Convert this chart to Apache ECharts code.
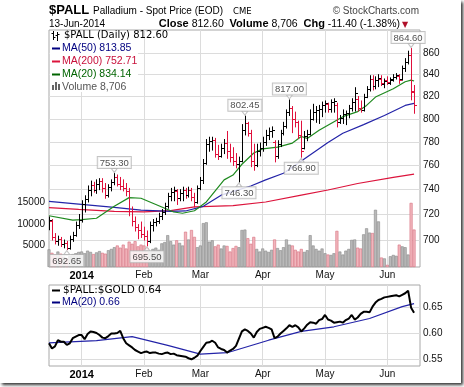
<!DOCTYPE html>
<html><head><meta charset="utf-8">
<script src="https://cdn.jsdelivr.net/npm/echarts@6/dist/echarts.min.js"></script>
<style>
html,body{margin:0;padding:0;background:#fff;}
#frame{position:absolute;left:0;top:0;width:461px;height:383px;background:#fff;box-shadow:2px 2px 3px #333;}
#chart{width:461px;height:383px;}
</style></head><body><div id="frame"><div id="chart"></div></div>
<script>
// ---- categories (trading days) ----
const dates = [
'2013-12-16','2013-12-17','2013-12-18','2013-12-19','2013-12-20','2013-12-23','2013-12-24','2013-12-26','2013-12-27','2013-12-30','2013-12-31',
'2014-01-02','2014-01-03','2014-01-06','2014-01-07','2014-01-08','2014-01-09','2014-01-10','2014-01-13','2014-01-14','2014-01-15','2014-01-16','2014-01-17','2014-01-21','2014-01-22','2014-01-23','2014-01-24','2014-01-27','2014-01-28','2014-01-29','2014-01-30','2014-01-31',
'2014-02-03','2014-02-04','2014-02-05','2014-02-06','2014-02-07','2014-02-10','2014-02-11','2014-02-12','2014-02-13','2014-02-14','2014-02-18','2014-02-19','2014-02-20','2014-02-21','2014-02-24','2014-02-25','2014-02-26','2014-02-27','2014-02-28',
'2014-03-03','2014-03-04','2014-03-05','2014-03-06','2014-03-07','2014-03-10','2014-03-11','2014-03-12','2014-03-13','2014-03-14','2014-03-17','2014-03-18','2014-03-19','2014-03-20','2014-03-21','2014-03-24','2014-03-25','2014-03-26','2014-03-27','2014-03-28','2014-03-31',
'2014-04-01','2014-04-02','2014-04-03','2014-04-04','2014-04-07','2014-04-08','2014-04-09','2014-04-10','2014-04-11','2014-04-14','2014-04-15','2014-04-16','2014-04-17','2014-04-21','2014-04-22','2014-04-23','2014-04-24','2014-04-25','2014-04-28','2014-04-29','2014-04-30',
'2014-05-01','2014-05-02','2014-05-05','2014-05-06','2014-05-07','2014-05-08','2014-05-09','2014-05-12','2014-05-13','2014-05-14','2014-05-15','2014-05-16','2014-05-19','2014-05-20','2014-05-21','2014-05-22','2014-05-23','2014-05-27','2014-05-28','2014-05-29','2014-05-30',
'2014-06-02','2014-06-03','2014-06-04','2014-06-05','2014-06-06','2014-06-09','2014-06-10','2014-06-11','2014-06-12','2014-06-13'];
const padCats = [' ', '  '];
const monthStarts = ['2014-01-02','2014-02-03','2014-03-03','2014-04-01','2014-05-01','2014-06-02'];
const monthLabels = ['2014','Feb','Mar','Apr','May','Jun'];
const priceTicks = [700,720,740,760,780,800,820,840,860];
const volumeTicks = [5000,10000,15000];
const ratioTicks = [0.55,0.60,0.65];

// ---- OHLC ----
const opens = [711,715,702,699,701,697,698,694,701,704,712,
716,728,732,740,744,740,745,747,741,736,742,746,750,745,743,741,739,723,715,710,708,
705,703,699,712,714,715,719,722,727,735,738,739,733,737,740,736,740,734,730,
741,748,762,778,781,782,770,768,775,779,772,767,764,761,764,790,796,788,764,760,772,
775,780,786,789,780,768,778,788,794,806,810,800,797,786,775,785,787,800,806,808,809,
812,813,809,815,812,797,801,804,805,810,815,818,810,808,820,827,836,830,835,836,831,
835,832,835,838,839,836,846,852,858,825];
const highs = [718,716,705,703,702,700,699,703,706,714,720,
731,735,743,747,746,748,749,749,745,744,748,753.3,752,750,748,745,741,726,718,712,714,
710,707,714,716,717,721,724,729,737,741,742,740,740,742,741,742,741,737,743,
750,765,782,784,784,783,777,778,782,789,778,775,770,767,795,802.45,797,790,778,778,779,
784,790,792,793,781,781,790,797,808,817,811,806,798,798,789,790,808,813,811,812,815,
816,814,817,818,814,803,808,807,812,818,828,820,816,822,829,839,839,838,840,839,836,
838,837,840,841,840,848,855,862,864.6,830];
const lows = [708,700,697,696,695,694,692.65,693,699,703,709,
714,722,730,735,738,737,740,738,733,734,739,744,743,740,739,735,719,711,707,701,702,
700,695.5,698,707,711,713,716,720,725,731,731,728,731,731,733,734,731,726,729,
740,745,761,772,773,767,765,767,770,766,763,760,758,746.3,763,786,785,759,756,759,768,
772,777,782,784,763,766,776,786,792,803,788,793,783,766.9,774,781,786,799,797,796,802,
806,806,806,806,793,796,796,795,801,807,807,807,806,807,819,825,826,827,829,830,828,
831,831,834,836,832,835,843,850,817,805];
const closes = [716,702,699,701,697,698,694,701,704,712,716,
728,732,740,744,740,745,747,741,736,742,746,750,745,743,741,739,723,715,710,708,705,
703,699,712,714,715,719,722,727,735,738,740,733,737,740,736,740,734,730,741,
748,762,778,781,782,770,768,775,779,772,767,764,761,764,790,796,788,764,760,772,775,
780,786,789,790,768,778,788,794,806,810,800,797,786,772,785,787,800,806,808,809,812,
814,809,815,816,797,801,804,805,810,815,823,810,808,820,827,836,830,835,837,832,834,
833,836,838,840,835,846,852,858,824,812.6];
const volumes = [4100,3300,2900,3600,3100,2400,2000,2600,3000,3200,3500,
3600,3200,3800,3500,3000,3400,3700,3300,3100,3900,4200,4600,
5000,4500,5200,4300,5900,5400,6000,4800,5200,
5000,4400,3600,4200,4500,4000,5500,5800,7400,6000,5200,6200,5600,5000,8200,6400,8600,7000,4600,5000,10200,10400,5900,6200,4800,5200,4300,5000,4900,3600,4400,
4900,4600,8600,8700,6700,5400,7000,4200,3600,4300,3800,3500,4000,6400,4400,3900,4600,6400,5200,5000,4000,3600,4200,3500,3900,7400,5000,4200,3800,4300,3200,
2900,2800,3200,8400,3600,2900,3800,4200,6300,6400,4500,4300,7600,9000,8000,7900,13300,10600,2200,2000,500,2500,2800,2600,5200,4800,4600,2900,14900,8706];

// ---- moving averages ----
const ma50Dates = ['2013-12-16','2013-12-31','2014-01-17','2014-01-31','2014-02-14','2014-02-24','2014-03-04','2014-03-12','2014-03-26','2014-04-02','2014-04-10','2014-04-22','2014-05-02','2014-05-09','2014-05-20','2014-05-30','2014-06-10','2014-06-13'];
const ma50Values = [730.5,728.3,725.7,723.5,722.4,722.8,726.5,735.5,743,748,753.5,765.5,779.5,787.5,795,803,812,813.85];
const ma200Dates = ['2013-12-16','2013-12-31','2014-01-17','2014-02-03','2014-02-14','2014-02-27','2014-03-18','2014-04-02','2014-04-21','2014-05-02','2014-05-16','2014-06-04','2014-06-13'];
const ma200Values = [725.5,724,722.5,722,723,726,727,730,735.5,739.7,745,750,752.71];
const ma20Dates = ['2013-12-16','2013-12-27','2014-01-02','2014-01-09','2014-01-17','2014-01-27','2014-01-31','2014-02-07','2014-02-18','2014-02-21','2014-02-27','2014-03-05','2014-03-10','2014-03-13','2014-03-18','2014-03-21','2014-03-27','2014-04-01','2014-04-08','2014-04-15','2014-04-21','2014-04-23','2014-04-29','2014-05-05','2014-05-09','2014-05-16','2014-05-21','2014-05-27','2014-06-04','2014-06-10','2014-06-12','2014-06-13'];
const ma20Values = [719,715.6,716,717,726.6,733.5,733,728,722,721,723,730,739,748,752,761,770.5,774,775.5,779,784.6,783,790,796,802,806.5,812,819.5,827,833.5,835,834.14];

// ---- lower panel ----
const ratio = [0.581,0.571,0.575,0.587,0.584,0.584,0.578,0.581,0.591,0.594,0.597,
0.597,0.589,0.599,0.604,0.603,0.601,0.597,0.592,0.591,0.595,0.600,0.600,0.601,0.605,0.591,0.581,0.577,0.573,0.568,0.565,0.562,
0.564,0.565,0.562,0.563,0.563,0.561,0.560,0.562,0.563,0.560,0.561,0.558,0.557,0.556,0.555,0.552,0.550,0.553,0.557,
0.566,0.574,0.582,0.583,0.586,0.582,0.573,0.570,0.568,0.563,0.567,0.570,0.576,0.590,0.604,0.608,0.605,0.600,0.592,0.603,0.609,
0.611,0.613,0.611,0.608,0.591,0.594,0.600,0.605,0.610,0.616,0.613,0.616,0.612,0.604,0.610,0.617,0.622,0.621,0.619,0.626,0.628,
0.636,0.627,0.625,0.621,0.622,0.623,0.621,0.626,0.629,0.636,0.627,0.631,0.638,0.642,0.642,0.641,0.652,0.660,0.665,0.667,0.670,
0.671,0.672,0.673,0.674,0.672,0.675,0.678,0.683,0.650,0.640];
const ratioMaDates = ['2013-12-16','2014-01-09','2014-01-28','2014-02-13','2014-03-03','2014-03-14','2014-03-18','2014-04-03','2014-04-21','2014-05-06','2014-05-22','2014-06-09','2014-06-13'];
const ratioMaValues = [0.582,0.586,0.594,0.577,0.560,0.563,0.566,0.587,0.604,0.613,0.629,0.652,0.658];

// ---- annotations ----
const annotDates = ['2013-12-24','2014-01-17','2014-02-04','2014-03-20','2014-03-24','2014-04-14','2014-04-21','2014-06-12'];
const annotValues = [692.65,753.30,695.50,746.30,802.45,817.00,766.90,864.60];
const annotAbove = [false,true,false,false,true,true,false,true];

// ---- header / legend numbers ----
const lastClose = 812.60, lastVolume = '8,706', chg = -11.40, chgPct = -1.38;
const ma50Last = 813.85, ma200Last = 752.71, ma20Last = 834.14;
const ratioLast = 0.64, ratioMaLast = 0.66;

const FONT = "'Liberation Sans', Arial, sans-serif";
const FONTW = "'DejaVu Sans', Verdana, sans-serif";
const NARROW = "'Liberation Sans Narrow', 'Liberation Sans', Arial, sans-serif";
const BLACK = '#000000', RED = '#e0103c', BLUE = '#2424a8', GREEN = '#1f8a1f', MARED = '#dc143c';

const categories = dates.concat(padCats);
const up = closes.map((c, i) => i === 0 ? c >= opens[0] : c >= closes[i - 1]);
const L = Math.log;

const chart = echarts.init(document.getElementById('chart'), null, {renderer: 'canvas'});

const isMonth = (i, v) => monthStarts.indexOf(v) >= 0;
function xAxisFor(g) {
  return {
    type: 'category', gridIndex: g, data: categories, boundaryGap: false,
    axisLine: {show: false}, axisTick: {show: false},
    axisLabel: {
      interval: isMonth,
      formatter: v => { const k = monthStarts.indexOf(v); return k === 0 ? '{b|' + monthLabels[0] + '}' : (k > 0 ? monthLabels[k] : ''); },
      rich: {b: {fontWeight: 'bold', fontSize: 11, fontFamily: FONT, color: '#000'}},
      fontSize: 10, fontFamily: FONT, color: '#111', margin: 3
    },
    splitLine: {show: true, interval: isMonth, lineStyle: {color: '#dcdcdc', width: 1}}
  };
}

const ohlcData = dates.map((d, i) => [i, L(opens[i]), L(highs[i]), L(lows[i]), L(closes[i])]);

const ZG = 100;
function txt(x, y, text, font, fill, extra) {
  return {type: 'text', z: ZG + 2, x: x, y: y, style: Object.assign({text: text, font: font, fill: fill,
    verticalAlign: 'middle', textVerticalAlign: 'middle'}, extra || {})};
}
function seg(x1, y1, x2, y2, color, w) {
  return {type: 'line', z: ZG + 2, shape: {x1: x1, y1: y1, x2: x2, y2: y2}, style: {stroke: color, lineWidth: w}};
}
function box(x, y, w, h, fill) {
  return {type: 'rect', z: ZG + 1, shape: {x: x, y: y, width: w, height: h}, style: {fill: fill}};
}

const option = {
  animation: false,
  backgroundColor: '#fff',
  grid: [
    {left: 49, top: 30, right: 41, bottom: 116, show: true, borderColor: '#a8a8a8', borderWidth: 1, backgroundColor: 'transparent'},
    {left: 49, top: 285, right: 41, bottom: 17, show: true, borderColor: '#a8a8a8', borderWidth: 1, backgroundColor: 'transparent'}
  ],
  xAxis: [xAxisFor(0), xAxisFor(1)],
  yAxis: [
    {type: 'value', gridIndex: 0, position: 'right', min: L(679.5), max: L(882.4),
      axisLine: {show: false},
      axisTick: {show: false, customValues: priceTicks.map(L)},
      axisLabel: {customValues: priceTicks.map(L), formatter: v => String(Math.round(Math.exp(v))), fontSize: 10, fontFamily: FONT, color: '#111', margin: 3},
      splitLine: {show: true, lineStyle: {color: '#dcdcdc'}}},
    {type: 'value', gridIndex: 0, position: 'left', min: 0, max: 55100,
      axisLine: {show: false},
      axisTick: {show: false, customValues: volumeTicks},
      axisLabel: {customValues: volumeTicks, formatter: v => String(v), fontSize: 10, fontFamily: FONT, color: '#111', margin: 4},
      splitLine: {show: false}},
    {type: 'value', gridIndex: 1, position: 'right', min: 0.537, max: 0.694,
      axisLine: {show: false},
      axisTick: {show: false, customValues: ratioTicks},
      axisLabel: {customValues: ratioTicks, formatter: v => v.toFixed(2), fontSize: 10, fontFamily: FONT, color: '#111', margin: 3},
      splitLine: {show: true, lineStyle: {color: '#dcdcdc'}}}
  ],
  series: [
    {type: 'bar', xAxisIndex: 0, yAxisIndex: 1, barWidth: 3, z: 1,
      data: volumes.map((v, i) => ({value: v, itemStyle: up[i]
        ? {color: '#b9b9b9', borderColor: '#8a8a8a', borderWidth: 0.6}
        : {color: '#f1b6bd', borderColor: '#d7707f', borderWidth: 0.6}}))},
    {type: 'line', xAxisIndex: 0, yAxisIndex: 0, symbol: 'none', z: 3,
      lineStyle: {color: MARED, width: 1.2},
      data: ma200Dates.map((d, k) => [d, L(ma200Values[k])])},
    {type: 'line', xAxisIndex: 0, yAxisIndex: 0, symbol: 'none', z: 3,
      lineStyle: {color: BLUE, width: 1.2},
      data: ma50Dates.map((d, k) => [d, L(ma50Values[k])])},
    {type: 'line', xAxisIndex: 0, yAxisIndex: 0, symbol: 'none', z: 3,
      lineStyle: {color: GREEN, width: 1.2},
      data: ma20Dates.map((d, k) => [d, L(ma20Values[k])])},
    {type: 'custom', xAxisIndex: 0, yAxisIndex: 0, z: 4, clip: true,
      encode: {x: 0, y: [1, 2, 3, 4]},
      data: ohlcData,
      renderItem: (params, api) => {
        const i = api.value(0);
        const pO = api.coord([i, api.value(1)]);
        const pH = api.coord([i, api.value(2)]);
        const pL = api.coord([i, api.value(3)]);
        const pC = api.coord([i, api.value(4)]);
        const x = Math.round(pO[0]) + 0.5;
        const yo = Math.round(pO[1]) + 0.5, yc = Math.round(pC[1]) + 0.5;
        const st = {stroke: up[params.dataIndex] ? BLACK : RED, lineWidth: 1};
        return {type: 'group', children: [
          {type: 'line', shape: {x1: x, y1: pH[1] - 0.5, x2: x, y2: pL[1] + 0.5}, style: st},
          {type: 'line', shape: {x1: x - 2.5, y1: yo, x2: x, y2: yo}, style: st},
          {type: 'line', shape: {x1: x, y1: yc, x2: x + 2.5, y2: yc}, style: st}
        ]};
      }},
    {type: 'scatter', xAxisIndex: 0, yAxisIndex: 0, z: 6, symbol: 'triangle', symbolSize: [6, 4],
      itemStyle: {color: '#fff', borderColor: '#b5b5b5', borderWidth: 1},
      label: {show: true, fontSize: 9.5, fontFamily: FONT, color: '#222', backgroundColor: '#fff',
        borderColor: '#b5b5b5', borderWidth: 1, padding: [1, 2, 0, 2], distance: 0,
        formatter: p => annotValues[p.dataIndex].toFixed(2)},
      data: annotDates.map((d, k) => ({
        value: [d, L(annotValues[k])],
        symbolRotate: annotAbove[k] ? 180 : 0,
        symbolOffset: [0, annotAbove[k] ? -3 : 3],
        label: {position: annotAbove[k] ? 'top' : 'bottom', offset: [k === annotDates.length - 1 ? -3 : 0, 0]}
      }))},
    {type: 'line', xAxisIndex: 1, yAxisIndex: 2, symbol: 'none', z: 3,
      lineStyle: {color: BLUE, width: 1.2},
      data: ratioMaDates.map((d, k) => [d, ratioMaValues[k]])},
    {type: 'line', xAxisIndex: 1, yAxisIndex: 2, symbol: 'none', z: 4,
      lineStyle: {color: '#000', width: 2},
      data: ratio}
  ],
  graphic: {elements: [
    txt(49, 10.5, '$PALL', 'bold 13px ' + FONT, '#000'),
    txt(93, 11, 'Palladium - Spot Price (EOD)', '10px ' + FONT, '#000'),
    txt(233, 11.5, 'CME', '8.5px ' + FONTW, '#000'),
    txt(419, 11, '\u00a9 StockCharts.com', '10px ' + FONT, '#444', {align: 'right', textAlign: 'right'}),
    txt(49, 24, '13-Jun-2014', '10px ' + FONT, '#000'),
    txt(400, 24, '{b|Close} ' + lastClose.toFixed(2) + '  {b|Volume} ' + lastVolume + '  {b|Chg} ' + chg.toFixed(2) + ' (' + chgPct.toFixed(2) + '%)',
      '10.5px ' + FONT, '#000', {align: 'right', textAlign: 'right',
      rich: {b: {fontWeight: 'bold', fontSize: 11, fontFamily: FONT, fill: '#000'}}}),
    txt(402, 24.5, '\u25BC', '8px ' + FONTW, '#b0102a'),

    box(50, 31, 88, 61, '#fff'),
    seg(53.5, 31, 53.5, 40, '#000', 1),
    seg(51.5, 33.5, 53.5, 33.5, '#000', 1),
    seg(53.5, 37.5, 55.5, 37.5, '#000', 1),
    seg(57.5, 32, 57.5, 41, '#000', 1),
    seg(55.5, 35.5, 57.5, 35.5, '#000', 1),
    seg(57.5, 34.5, 59.5, 34.5, '#000', 1),
    txt(64, 35.5, '$PALL (Daily) ' + lastClose.toFixed(2), '10px ' + FONTW, '#000'),
    seg(52, 48.5, 60, 48.5, '#000080', 2),
    txt(62, 48.5, 'MA(50) ' + ma50Last.toFixed(2), '10.5px ' + NARROW, '#000080'),
    seg(52, 61.5, 60, 61.5, MARED, 2),
    txt(62, 61.5, 'MA(200) ' + ma200Last.toFixed(2), '10.5px ' + NARROW, '#c8103a'),
    seg(52, 74.5, 60, 74.5, '#006400', 2),
    txt(62, 74.5, 'MA(20) ' + ma20Last.toFixed(2), '10.5px ' + NARROW, '#006400'),
    box(52, 85, 2, 5, '#666'),
    box(55, 82, 2, 8, '#666'),
    box(58, 84, 2, 6, '#666'),
    txt(62, 87, 'Volume ' + lastVolume, '10.5px ' + NARROW, '#555'),

    seg(52, 290.5, 60, 290.5, '#000', 2),
    txt(63, 290.5, '$PALL:$GOLD ' + ratioLast.toFixed(2), '10.5px ' + FONTW, '#000'),
    seg(52, 302.5, 60, 302.5, '#000080', 2),
    txt(62, 302.5, 'MA(20) ' + ratioMaLast.toFixed(2), '10.5px ' + NARROW, '#000080')
  ]}
};
chart.setOption(option);
</script></body></html>
